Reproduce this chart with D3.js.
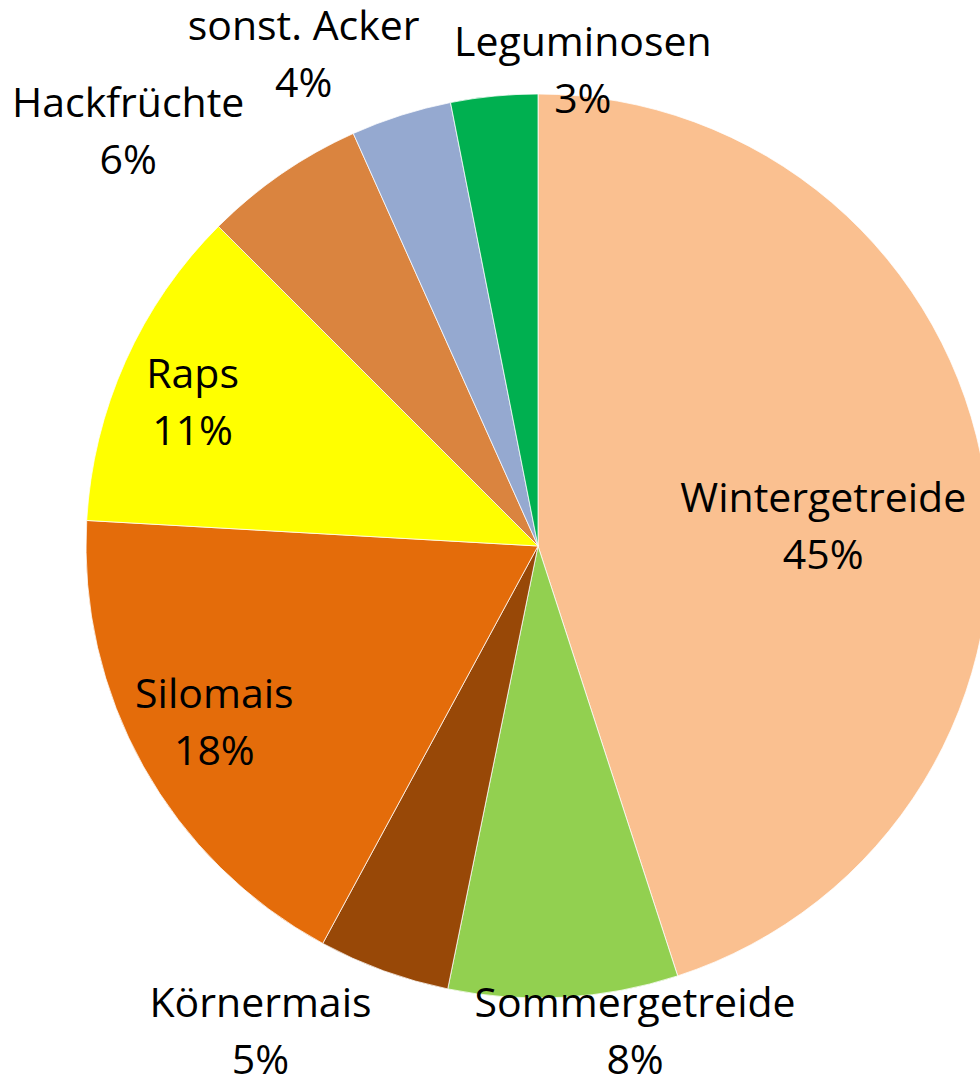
<!DOCTYPE html>
<meta charset='utf-8'>
<style>
	body { margin: 0; background: #fff; }
	#container { width: 980px; height: 1082px; }
	text { font-family: 'Open Sans', sans-serif; font-size: 41px; fill: #000; }
</style>
<body>
	<div id='container'></div>
<script src='https://d3js.org/d3.v7.min.js'></script>
<script>
	// data, clockwise from 12 o'clock
	const categories = ['Wintergetreide', 'Sommergetreide', 'Körnermais', 'Silomais', 'Raps', 'Hackfrüchte', 'sonst. Acker', 'Leguminosen'];
	const shares = [45.0, 8.2, 4.7, 18.0, 11.6, 5.8, 3.6, 3.1];
	const pctLabels = ['45%', '8%', '5%', '18%', '11%', '6%', '4%', '3%'];

	const colors = ['#FAC090', '#92D050', '#984807', '#E46C0A', '#FFFF00', '#DA843F', '#95A9D0', '#00B050'];

	// label placement: radius factor + nudge (Excel best fit)
	const labelR = [0.63, 1.10, 1.24, 0.82, 0.83, 1.29, 1.20, 1.05];
	const labelNudge = [[4, 27], [69, -9], [-86, -40], [0, -3], [-3, 11], [-79, 67], [-70, 27], [91, -2]];

	const width = 980, height = 1082,
		cx = 538, cy = 546, radius = 452, lineGap = 57;

	let svg = d3.select( '#container' )
		.append( 'svg' )
		.attr( 'width', width )
		.attr( 'height', height )
		.append( 'g' )
			.attr( 'transform', `translate( ${cx}, ${cy} )` );

	let pie = d3.pie()
		.sort( null )
		.value( d => d );

	let arcs = pie( shares );

	let arc = d3.arc()
		.innerRadius( 0 )
		.outerRadius( radius );

	svg.selectAll( 'path' )
		.data( arcs )
		.enter().append( 'path' )
			.attr( 'd', arc )
			.attr( 'fill', (d, i) => colors[i] )
			.attr( 'stroke', '#fff' )
			.attr( 'stroke-width', 0.75 );

	let labels = svg.selectAll( 'g.label' )
		.data( arcs )
		.enter().append( 'g' )
			.attr( 'class', 'label' )
			.attr( 'transform', (d, i) => {
				let r = radius * labelR[i];
				let c = d3.arc().innerRadius( r ).outerRadius( r ).centroid( d );
				return `translate( ${c[0] + labelNudge[i][0]}, ${c[1] + labelNudge[i][1]} )`;
			} );

	labels.append( 'text' )
		.attr( 'text-anchor', 'middle' )
		.attr( 'y', -16 )
		.text( (d, i) => categories[i] );

	labels.append( 'text' )
		.attr( 'text-anchor', 'middle' )
		.attr( 'y', -16 + lineGap )
		.text( (d, i) => pctLabels[i] );
</script>
</body>
